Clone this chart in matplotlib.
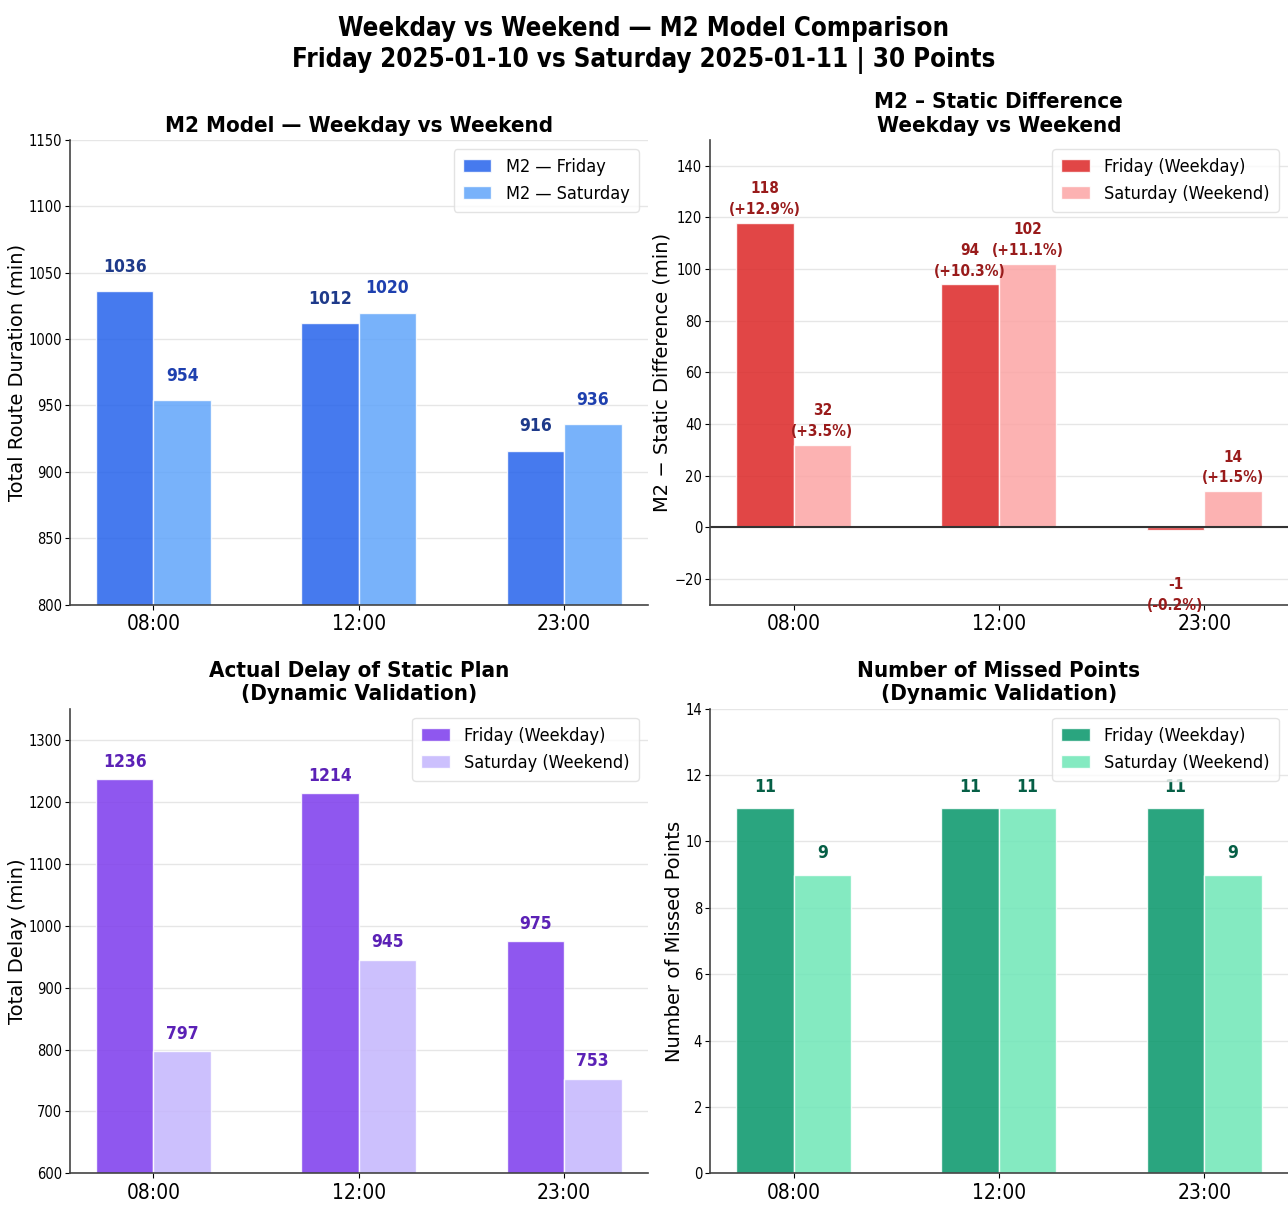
import matplotlib
matplotlib.use("Agg")
import matplotlib.pyplot as plt
import numpy as np

# data
times = ["08:00", "12:00", "23:00"]
duration_fri = [1036, 1012, 916]
duration_sat = [954, 1020, 936]
diff_fri = [118, 94, -1]
diff_sat = [32, 102, 14]
diff_pct_fri = ["+12.9%", "+10.3%", "-0.2%"]
diff_pct_sat = ["+3.5%", "+11.1%", "+1.5%"]
delay_fri = [1236, 1214, 975]
delay_sat = [797, 945, 753]
missed_fri = [11, 11, 11]
missed_sat = [9, 11, 9]

plt.rcParams['font.family'] = ['DejaVu Sans']
plt.rcParams['font.stretch'] = 'condensed'
plt.rcParams['axes.spines.top'] = False
plt.rcParams['axes.spines.right'] = False

fig, axes = plt.subplots(2, 2, figsize=(12.88, 12.06), dpi=100)
fig.subplots_adjust(left=0.054, right=1.0, top=0.884, bottom=0.027, wspace=0.107, hspace=0.224)

fig.suptitle("Weekday vs Weekend — M2 Model Comparison\nFriday 2025-01-10 vs Saturday 2025-01-11 | 30 Points",
             fontsize=18.5, fontweight='bold', y=0.963, va='center', linespacing=1.25)

x = np.arange(len(times))
w = 0.28


def style_axis(ax, ylabel, title, ylim, label_x):
    ax.set_xticks(x)
    ax.set_xticklabels(times, fontsize=15)
    ax.tick_params(axis='y', labelsize=10.5, length=3.5, pad=2)
    ax.set_ylim(*ylim)
    ax.set_ylabel(ylabel, fontsize=14, fontstretch='normal')
    ax.yaxis.set_label_coords(label_x, 0.5)
    ax.set_title(title, fontsize=16, fontweight='bold', linespacing=1.2)
    ax.grid(axis='y', color='#e6e6e6', linewidth=1)
    ax.set_axisbelow(True)
    for s in ['left', 'bottom']:
        ax.spines[s].set_color('#444444')
        ax.spines[s].set_linewidth(1.2)


def draw_pair(ax, fri, sat, c1, c2, lab1, lab2):
    b1 = ax.bar(x - w / 2, fri, w, color=c1, alpha=0.85, edgecolor='white', label=lab1)
    b2 = ax.bar(x + w / 2, sat, w, color=c2, alpha=0.85, edgecolor='white', label=lab2)
    leg = ax.legend(loc='upper right', fontsize=13, frameon=True, handlelength=1.6,
                    labelspacing=0.5, borderpad=0.5)
    leg.get_frame().set_edgecolor('#dddddd')
    return b1, b2


def bar_labels(ax, bars, color, offset):
    for b in bars:
        ax.annotate(f"{int(b.get_height())}", (b.get_x() + b.get_width() / 2, b.get_height()),
                    xytext=(0, offset), textcoords='offset points', ha='center', va='bottom',
                    fontsize=12.5, fontweight='bold', color=color)


# top left: total route duration
ax = axes[0, 0]
b1, b2 = draw_pair(ax, duration_fri, duration_sat, '#2563eb', '#60a5fa', 'M2 — Friday', 'M2 — Saturday')
bar_labels(ax, b1, '#1e3a8a', 11)
bar_labels(ax, b2, '#1e40af', 11)
style_axis(ax, 'Total Route Duration (min)', 'M2 Model — Weekday vs Weekend', (800, 1150), -0.074)

# top right: static difference
ax = axes[0, 1]
b1, b2 = draw_pair(ax, diff_fri, diff_sat, '#dc2626', '#fca5a5', 'Friday (Weekday)', 'Saturday (Weekend)')
ax.axhline(0, color='#333333', linewidth=1.5)
for bars, vals, pcts in [(b1, diff_fri, diff_pct_fri), (b2, diff_sat, diff_pct_sat)]:
    for b, v, p in zip(bars, vals, pcts):
        xc = b.get_x() + b.get_width() / 2
        kw = dict(textcoords='offset points', ha='center', fontsize=11,
                  fontweight='bold', color='#991b1b')
        if v >= 0:
            ax.annotate(f"({p})", (xc, v), xytext=(0, 4), va='bottom', **kw)
            ax.annotate(f"{v}", (xc, v), xytext=(0, 19), va='bottom', **kw)
        else:
            ax.annotate(f"{v}", (xc, v), xytext=(0, -34), va='top', **kw)
            ax.annotate(f"({p})", (xc, v), xytext=(0, -49), va='top', **kw)
style_axis(ax, 'M2 − Static Difference (min)', 'M2 – Static Difference\nWeekday vs Weekend', (-30, 150), -0.066)

# bottom left: actual delay
ax = axes[1, 0]
b1, b2 = draw_pair(ax, delay_fri, delay_sat, '#7c3aed', '#c4b5fd', 'Friday (Weekday)', 'Saturday (Weekend)')
bar_labels(ax, b1, '#5b21b6', 6)
bar_labels(ax, b2, '#5b21b6', 6)
style_axis(ax, 'Total Delay (min)', 'Actual Delay of Static Plan\n(Dynamic Validation)', (600, 1350), -0.074)

# bottom right: missed points
ax = axes[1, 1]
b1, b2 = draw_pair(ax, missed_fri, missed_sat, '#059669', '#6ee7b7', 'Friday (Weekday)', 'Saturday (Weekend)')
bar_labels(ax, b1, '#065f46', 9)
bar_labels(ax, b2, '#065f46', 9)
style_axis(ax, 'Number of Missed Points', 'Number of Missed Points\n(Dynamic Validation)', (0, 14), -0.045)

fig.savefig('out.png', dpi=100)
